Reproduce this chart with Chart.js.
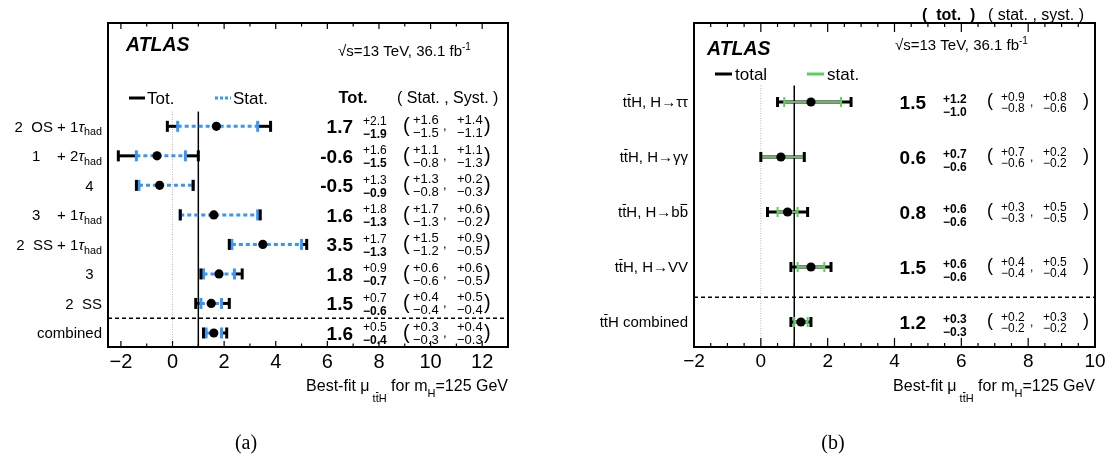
<!DOCTYPE html>
<html>
<head>
<meta charset="utf-8">
<script src="https://cdn.jsdelivr.net/npm/chart.js@4.4.0/dist/chart.umd.min.js"></script>
<style>
  html, body { margin: 0; padding: 0; background: #fff; }
  #wrap { position: relative; width: 1112px; height: 463px; }
  canvas { position: absolute; top: 0; }
  #chartA { left: 0; }
  #chartB { left: 556px; }
</style>
</head>
<body>
<div id="wrap">
  <canvas id="chartA" width="556" height="463"></canvas>
  <canvas id="chartB" width="556" height="463"></canvas>
</div>
<script>
// --- (a) ttH multilepton channels, top row first ---
const labelsA = ['2  OS + 1τ_{had}', '1    + 2τ_{had}', '4  ', '3    + 1τ_{had}', '2  SS + 1τ_{had}', '3  ', '2  SS', 'combined'];
const centralA = [1.7, -0.6, -0.5, 1.6, 3.5, 1.8, 1.5, 1.6];
const totUpA = [2.1, 1.6, 1.3, 1.8, 1.7, 0.9, 0.7, 0.5];
const totDnA = [1.9, 1.5, 0.9, 1.3, 1.3, 0.7, 0.6, 0.4];
const statUpA = [1.6, 1.1, 1.3, 1.7, 1.5, 0.6, 0.4, 0.3];
const statDnA = [1.5, 0.8, 0.8, 1.3, 1.2, 0.6, 0.4, 0.3];
const systUpA = [1.4, 1.1, 0.2, 0.6, 0.9, 0.6, 0.5, 0.4];
const systDnA = [1.1, 1.3, 0.3, 0.2, 0.5, 0.5, 0.4, 0.3];
const ticksA = [-2, 0, 2, 4, 6, 8, 10, 12];

// --- (b) ttH by Higgs decay mode ---
const labelsB = ['tt\u0304H, H→ττ', 'tt\u0304H, H→γγ', 'tt\u0304H, H→bb\u0304', 'tt\u0304H, H→VV', 'tt\u0304H combined'];
const centralB = [1.5, 0.6, 0.8, 1.5, 1.2];
const totUpB = [1.2, 0.7, 0.6, 0.6, 0.3];
const totDnB = [1.0, 0.6, 0.6, 0.6, 0.3];
const statUpB = [0.9, 0.7, 0.3, 0.4, 0.2];
const statDnB = [0.8, 0.6, 0.3, 0.4, 0.2];
const systUpB = [0.8, 0.2, 0.5, 0.5, 0.3];
const systDnB = [0.6, 0.2, 0.5, 0.4, 0.2];
const ticksB = [-2, 0, 2, 4, 6, 8, 10];

const SANS = '"Liberation Sans", Arial, Helvetica, sans-serif';
const SERIF = '"Liberation Serif", "Times New Roman", serif';
const BLUE = 'rgb(55, 150, 250)';
const GREEN = 'rgb(90, 210, 90)';

function font(s) {
  return (s.style || '') + ' ' + (s.weight || '') + ' ' + s.size + 'px ' + (s.family || SANS);
}

// split text into runs; a char followed by U+0304 gets an overline
function runs(text) {
  const out = [];
  let buf = '';
  for (let i = 0; i < text.length; i++) {
    if (text[i + 1] === '\u0304') {
      if (buf) { out.push({s: buf}); buf = ''; }
      out.push({s: text[i], bar: true});
      i++;
    } else buf += text[i];
  }
  if (buf) out.push({s: buf});
  return out;
}

function drawRich(ctx, x, base, segs, align) {
  ctx.textBaseline = 'alphabetic';
  ctx.textAlign = 'left';
  let w = 0;
  segs.forEach(s => {
    ctx.font = font(s);
    runs(s.t).forEach(r => { w += ctx.measureText(r.s).width; });
  });
  let cx = align === 'right' ? x - w : align === 'center' ? x - w / 2 : x;
  segs.forEach(s => {
    ctx.font = font(s);
    const by = base + (s.dy || 0);
    runs(s.t).forEach(r => {
      const rw = ctx.measureText(r.s).width;
      ctx.fillText(r.s, cx, by);
      if (r.bar) {
        ctx.save();
        ctx.lineWidth = Math.max(1, s.size / 14);
        ctx.strokeStyle = ctx.fillStyle;
        line(ctx, cx + rw * 0.1, by - s.size * 0.86, cx + rw * 0.9, by - s.size * 0.86);
        ctx.restore();
      }
      cx += rw;
    });
  });
}

// tiny markup: _{sub}, ^{sup}; tau optionally set in italic
function parseTex(str, size, italicTau) {
  const segs = [];
  const push = (t, sz, dy) => {
    t.split(/(τ)/).forEach(part => {
      if (part) segs.push({t: part, size: sz, dy: dy, style: italicTau && part === 'τ' ? 'italic' : ''});
    });
  };
  const re = /([_^])\{([^}]*)\}/g;
  let last = 0, m;
  while ((m = re.exec(str))) {
    push(str.slice(last, m.index), size, 0);
    push(m[2], size * 0.72, m[1] === '_' ? size * 0.25 : -size * 0.4);
    last = re.lastIndex;
  }
  push(str.slice(last), size, 0);
  return segs;
}

function line(ctx, x1, y1, x2, y2) {
  ctx.beginPath();
  ctx.moveTo(x1, y1);
  ctx.lineTo(x2, y2);
  ctx.stroke();
}

function txt(ctx, s, x, y, size, weight, align, family) {
  ctx.font = font({size: size, weight: weight, family: family});
  ctx.textAlign = align || 'left';
  ctx.textBaseline = 'alphabetic';
  ctx.fillText(s, x, y);
}

const TITLE = [
  {t: 'Best-fit μ', size: 16},
  {t: ' tt\u0304H', size: 11, dy: 11},
  {t: ' for m', size: 16},
  {t: 'H', size: 11, dy: 6},
  {t: '=125 GeV', size: 16}
];
const SQRTS = [{t: '√s=13 TeV, 36.1 fb', size: 15}, {t: '-1', size: 10, dy: -6}];

function barsA(ctx, py, tl, th, sl, sh) {
  ctx.strokeStyle = '#000';
  ctx.lineWidth = 3;
  line(ctx, tl, py, sl, py);
  line(ctx, sh, py, th, py);
  ctx.strokeStyle = BLUE;
  ctx.setLineDash([4, 3]);
  line(ctx, sl, py, sh, py);
  ctx.setLineDash([]);
  [sl, sh].forEach(v => line(ctx, v, py - 5.5, v, py + 5.5));
  ctx.strokeStyle = '#000';
  [tl, th].forEach(v => line(ctx, v, py - 5.5, v, py + 5.5));
}

function barsB(ctx, py, tl, th, sl, sh) {
  ctx.strokeStyle = '#000';
  ctx.lineWidth = 3;
  line(ctx, tl, py, th, py);
  ctx.strokeStyle = 'rgb(105, 185, 105)';
  ctx.lineWidth = 2;
  line(ctx, sl, py, sh, py);
  ctx.strokeStyle = GREEN;
  [sl, sh].forEach(v => line(ctx, v, py - 5, v, py + 5));
  ctx.strokeStyle = '#000';
  ctx.lineWidth = 3;
  [tl, th].forEach(v => line(ctx, v, py - 5, v, py + 5));
}

function headerA(ctx) {
  ctx.fillStyle = '#000';
  txt(ctx, 'ATLAS', 126, 51, 19.5, 'bold italic');
  drawRich(ctx, 338, 56, SQRTS);
  ctx.strokeStyle = '#000';
  ctx.lineWidth = 3;
  line(ctx, 129, 98, 145, 98);
  txt(ctx, 'Tot.', 147, 104, 17);
  ctx.strokeStyle = BLUE;
  ctx.setLineDash([3, 2]);
  line(ctx, 215, 98, 231, 98);
  ctx.setLineDash([]);
  txt(ctx, 'Stat.', 233, 104, 17);
  txt(ctx, 'Tot.', 353, 103, 16.5, 'bold', 'center');
  txt(ctx, '( Stat. , Syst. )', 397, 103, 16);
}

function headerB(ctx) {
  ctx.fillStyle = '#000';
  txt(ctx, 'ATLAS', 151, 55, 19.5, 'bold italic');
  drawRich(ctx, 339, 49.5, SQRTS);
  ctx.strokeStyle = '#000';
  ctx.lineWidth = 3;
  line(ctx, 159, 74, 176, 74);
  txt(ctx, 'total', 179, 80, 17);
  ctx.strokeStyle = GREEN;
  line(ctx, 251, 74, 268, 74);
  txt(ctx, 'stat.', 271, 80, 17);
  txt(ctx, '(  tot.  )', 366, 19.5, 16, 'bold');
  txt(ctx, '( stat. , syst. )', 432, 19.5, 16);
}

const panelA = {
  labels: labelsA, central: centralA, totUp: totUpA, totDn: totDnA,
  statUp: statUpA, statDn: statDnA, systUp: systUpA, systDn: systDnA,
  ticks: ticksA, minorStep: 1, xMin: -2.5, xMax: 13, yMin: -0.475, yMax: 10.5,
  smTop: 7.5, sepAt: 0.5, pad: {left: 108, right: 48, top: 23, bottom: 0},
  majorLen: 6, minorLen: 3.5, tickFont: 20, italicTau: true,
  bars: barsA, header: headerA, caption: '(a)', captionX: 246,
  L: {labelX: 102, valX: 353, valDy: 7, errX: 363, supDy: -6, subDy: 7, supBold: '', subBold: 'bold',
      parL: 403, parR: 484, parDy: 6, parSize: 20, statX: 413, commaX: 443, systX: 457,
      psSize: 13, psSupDy: -7, psSubDy: 6}
};

const panelB = {
  labels: labelsB, central: centralB, totUp: totUpB, totDn: totDnB,
  statUp: statUpB, statDn: statDnB, systUp: systUpB, systDn: systDnB,
  ticks: ticksB, minorStep: 0.5, xMin: -2, xMax: 10, yMin: -0.4545, yMax: 5.436,
  smTop: 4.3, sepAt: 0.45, pad: {left: 138, right: 17, top: 23, bottom: 0},
  majorLen: 9, minorLen: 4, tickFont: 19, italicTau: false,
  bars: barsB, header: headerB, caption: '(b)', captionX: 277,
  L: {labelX: 132, valX: 370, valDy: 7, errX: 387, supDy: -3.5, subDy: 10, supBold: 'bold', subBold: 'bold',
      parL: 431, parR: 527, parDy: 4, parSize: 18, statX: 445, commaX: 474, systX: 487,
      psSize: 12, psSupDy: -5, psSubDy: 6}
};

function panelPlugin(p) {
  const n = p.central.length;
  return {
    id: 'panelDraw',
    beforeDatasetsDraw(chart) {
      const {ctx, chartArea: ca, scales: {x, y}} = chart;
      ctx.save();
      const top = y.getPixelForValue(p.smTop);
      ctx.strokeStyle = '#b5b5b5';
      ctx.lineWidth = 1;
      ctx.setLineDash([1, 1.5]);
      line(ctx, x.getPixelForValue(0), top, x.getPixelForValue(0), ca.bottom);
      ctx.setLineDash([]);
      ctx.strokeStyle = '#000';
      ctx.lineWidth = 1.5;
      line(ctx, x.getPixelForValue(1), top, x.getPixelForValue(1), ca.bottom);
      ctx.setLineDash([4, 3]);
      const sy = y.getPixelForValue(p.sepAt);
      line(ctx, ca.left, sy, ca.right, sy);
      ctx.setLineDash([]);
      p.central.forEach((c, i) => {
        const py = y.getPixelForValue(n - 1 - i);
        p.bars(ctx, py,
          x.getPixelForValue(c - p.totDn[i]), x.getPixelForValue(c + p.totUp[i]),
          x.getPixelForValue(c - p.statDn[i]), x.getPixelForValue(c + p.statUp[i]));
      });
      ctx.restore();
    },
    afterDraw(chart) {
      const {ctx, chartArea: ca, scales: {x, y}} = chart;
      const L = p.L;
      ctx.save();
      ctx.fillStyle = '#000';
      ctx.strokeStyle = '#000';
      ctx.lineWidth = 2;
      ctx.strokeRect(ca.left, ca.top, ca.right - ca.left, ca.bottom - ca.top);
      // inward ticks on bottom and top edges
      ctx.lineWidth = 1.2;
      const first = Math.ceil(p.xMin / p.minorStep) * p.minorStep;
      for (let v = first; v <= p.xMax + 1e-9; v += p.minorStep) {
        const px = x.getPixelForValue(v);
        const major = p.ticks.some(t => Math.abs(t - v) < 1e-6);
        const len = major ? p.majorLen : p.minorLen;
        line(ctx, px, ca.bottom, px, ca.bottom - len);
        line(ctx, px, ca.top, px, ca.top + len);
      }
      drawRich(ctx, ca.right, 391, TITLE, 'right');
      p.header(ctx);
      p.labels.forEach((lab, i) => {
        const py = y.getPixelForValue(n - 1 - i);
        drawRich(ctx, L.labelX, py + 5.4, parseTex(lab, 15, p.italicTau), 'right');
        txt(ctx, p.central[i].toFixed(1), L.valX, py + L.valDy, 19, 'bold', 'right');
        txt(ctx, '+' + p.totUp[i].toFixed(1), L.errX, py + L.supDy + 4.3, 12, L.supBold);
        txt(ctx, '\u2212' + p.totDn[i].toFixed(1), L.errX, py + L.subDy + 4.3, 12, L.subBold);
        txt(ctx, '(', L.parL, py + L.parDy, L.parSize);
        txt(ctx, ')', L.parR, py + L.parDy, L.parSize);
        const s = L.psSize, b = s * 0.36;
        txt(ctx, '+' + p.statUp[i].toFixed(1), L.statX, py + L.psSupDy + b, s);
        txt(ctx, '\u2212' + p.statDn[i].toFixed(1), L.statX, py + L.psSubDy + b, s);
        txt(ctx, ',', L.commaX, py + 4, s);
        txt(ctx, '+' + p.systUp[i].toFixed(1), L.systX, py + L.psSupDy + b, s);
        txt(ctx, '\u2212' + p.systDn[i].toFixed(1), L.systX, py + L.psSubDy + b, s);
      });
      txt(ctx, p.caption, p.captionX, 449, 20, '', 'center', SERIF);
      ctx.restore();
    }
  };
}

function makeChart(id, p) {
  const n = p.central.length;
  return new Chart(document.getElementById(id), {
    type: 'scatter',
    data: {
      datasets: [{
        data: p.central.map((c, i) => ({x: c, y: n - 1 - i})),
        backgroundColor: '#000',
        borderWidth: 0,
        pointRadius: 4.6,
        pointHoverRadius: 4.6
      }]
    },
    options: {
      responsive: false,
      animation: false,
      devicePixelRatio: 1,
      layout: {padding: p.pad},
      plugins: {legend: {display: false}, tooltip: {enabled: false}},
      scales: {
        x: {
          type: 'linear', min: p.xMin, max: p.xMax,
          afterBuildTicks: s => { s.ticks = p.ticks.map(v => ({value: v})); },
          afterFit: s => { s.height = 116; },
          grid: {display: false, drawTicks: false},
          border: {display: false},
          ticks: {
            autoSkip: false, maxRotation: 0, padding: 3, color: '#000',
            font: {family: SANS, size: p.tickFont},
            callback: v => (v < 0 ? '\u2212' + Math.abs(v) : String(v))
          }
        },
        y: {type: 'linear', display: false, min: p.yMin, max: p.yMax}
      }
    },
    plugins: [panelPlugin(p)]
  });
}

makeChart('chartA', panelA);
makeChart('chartB', panelB);
</script>
</body>
</html>
